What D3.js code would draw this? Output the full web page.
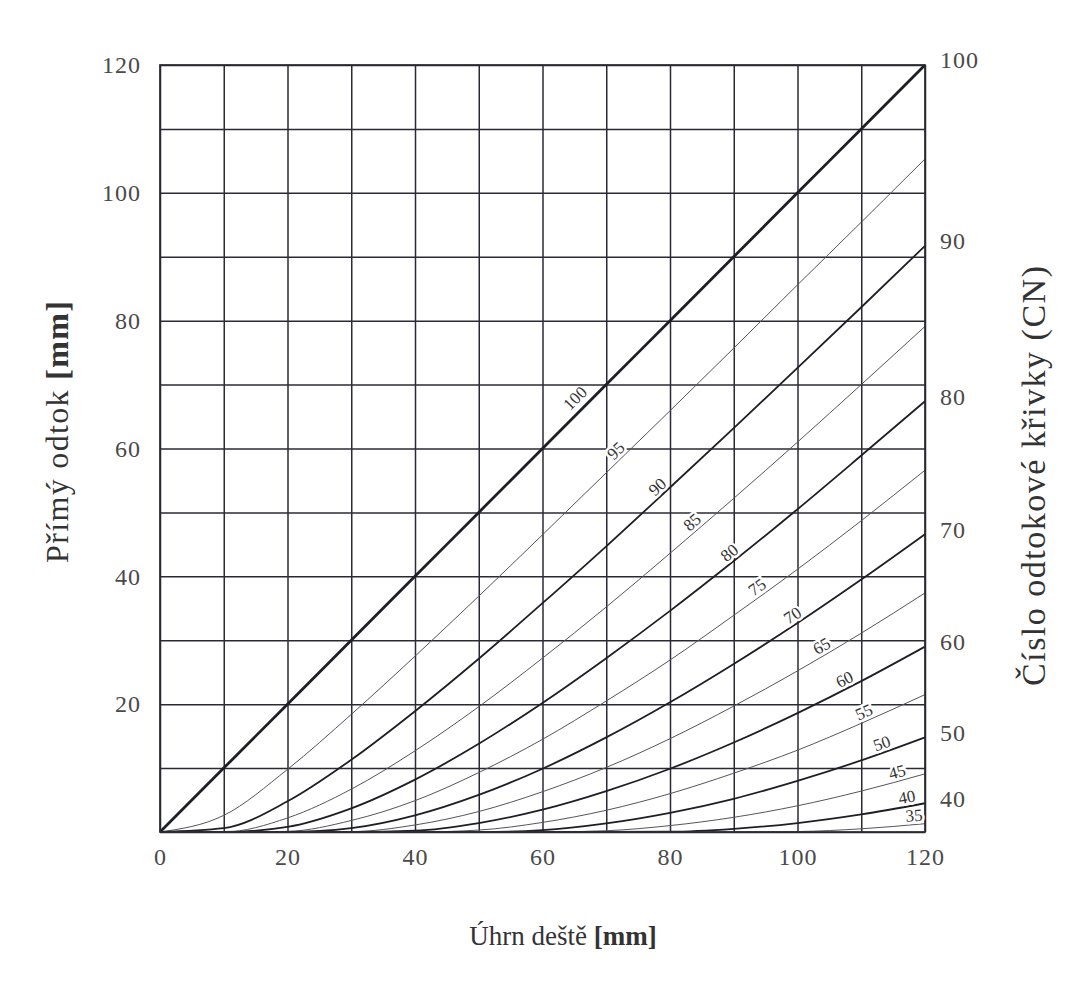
<!DOCTYPE html>
<html>
<head>
<meta charset="utf-8">
<script src="https://cdn.jsdelivr.net/npm/d3@7/dist/d3.min.js"></script>
<style>
    body { margin: 0; background: #fff; }
    text { font-family: "Liberation Serif", "DejaVu Serif", serif; }
</style>
</head>
<body>
<svg id="chart" width="1065" height="983"></svg>
<script>
// Rainfall (x) in mm, sampled every 10 mm
const rain = [0, 10, 20, 30, 40, 50, 60, 70, 80, 90, 100, 110, 120];

// Direct runoff (y) in mm
const runoff100 = [0, 10, 20, 30, 40, 50, 60, 70, 80, 90, 100, 110, 120];
const runoff95 = [0, 2.6, 9.8, 18.4, 27.5, 36.9, 46.5, 56.2, 65.9, 75.7, 85.6, 95.4, 105.3];
const runoff90 = [0, 0.6, 4.8, 11.3, 18.9, 27.1, 35.8, 44.7, 53.9, 63.2, 72.6, 82.1, 91.7];
const runoff85 = [0, 0, 2.2, 6.7, 12.7, 19.6, 27.2, 35.2, 43.6, 52.2, 61.0, 70.0, 79.1];
const runoff80 = [0, 0, 0.8, 3.7, 8.2, 13.8, 20.2, 27.2, 34.6, 42.4, 50.5, 58.9, 67.4];
const runoff75 = [0, 0, 0.1, 1.8, 4.9, 9.3, 14.5, 20.5, 26.9, 33.9, 41.1, 48.7, 56.6];
const runoff70 = [0, 0, 0, 0.6, 2.6, 5.8, 9.9, 14.8, 20.3, 26.3, 32.7, 39.5, 46.6];
const runoff65 = [0, 0, 0, 0.05, 1.1, 3.2, 6.3, 10.1, 14.6, 19.7, 25.2, 31.1, 37.4];
const runoff60 = [0, 0, 0, 0, 0.2, 1.4, 3.5, 6.4, 9.9, 14.0, 18.6, 23.6, 29.0];
const runoff55 = [0, 0, 0, 0, 0, 0.3, 1.5, 3.4, 6.0, 9.2, 12.8, 17.0, 21.5];
const runoff50 = [0, 0, 0, 0, 0, 0, 0.3, 1.35, 3.0, 5.2, 8.0, 11.2, 14.8];
const runoff45 = [0, 0, 0, 0, 0, 0, 0, 0.2, 1.0, 2.3, 4.1, 6.4, 9.1];
const runoff40 = [0, 0, 0, 0, 0, 0, 0, 0, 0.04, 0.5, 1.4, 2.75, 4.5];
const runoff35 = [0, 0, 0, 0, 0, 0, 0, 0, 0, 0, 0.07, 0.5, 1.3];

// Curve numbers and the rainfall where each curve's label sits
const cnValues = [100, 95, 90, 85, 80, 75, 70, 65, 60, 55, 50, 45, 40, 35];
const labelRain = [66.5, 72.5, 79, 84.4, 90.2, 94.5, 100, 104.5, 108, 111, 113.7, 116, 117.4, 118.4];

// Axis tick labels
const xTicks = [0, 20, 40, 60, 80, 100, 120];
const yTicks = [20, 40, 60, 80, 100, 120];
const gridTicks = [0, 10, 20, 30, 40, 50, 60, 70, 80, 90, 100, 110, 120];

const runoffByCn = {
    100: runoff100, 95: runoff95, 90: runoff90, 85: runoff85, 80: runoff80,
    75: runoff75, 70: runoff70, 65: runoff65, 60: runoff60, 55: runoff55,
    50: runoff50, 45: runoff45, 40: runoff40, 35: runoff35
};

const svg = d3.select("#chart");
const plot = { left: 160, right: 925, top: 65, bottom: 832 };

const x = d3.scaleLinear().domain([0, 120]).range([plot.left, plot.right]);
const y = d3.scaleLinear().domain([0, 120]).range([plot.bottom, plot.top]);

svg.append("rect").attr("width", 1065).attr("height", 983).attr("fill", "#fff");

// Grid
svg.append("g")
    .attr("transform", `translate(0, ${plot.bottom})`)
    .call(d3.axisBottom(x).tickValues(gridTicks).tickSize(-(plot.bottom - plot.top)).tickFormat(""))
    .call(g => g.select(".domain").remove())
    .call(g => g.selectAll("line").attr("stroke", "#2a2a32").attr("stroke-width", 1.5));

svg.append("g")
    .attr("transform", `translate(${plot.left}, 0)`)
    .call(d3.axisLeft(y).tickValues(gridTicks).tickSize(-(plot.right - plot.left)).tickFormat(""))
    .call(g => g.select(".domain").remove())
    .call(g => g.selectAll("line").attr("stroke", "#2a2a32").attr("stroke-width", 1.5));

// Curves
const line = d3.line()
    .x((d, i) => x(rain[i]))
    .y(d => y(d))
    .curve(d3.curveMonotoneX);

function strokeWidth(cn) {
    if (cn === 100) return 2.8;
    return cn % 10 === 0 ? 1.8 : 1.0;
}

svg.append("g")
    .selectAll("path")
    .data(cnValues)
    .enter()
    .append("path")
    .attr("d", cn => line(runoffByCn[cn]))
    .attr("fill", "none")
    .attr("stroke", cn => cn % 10 === 0 ? "#1e1e26" : "#55555c")
    .attr("stroke-width", strokeWidth);

// Frame
svg.append("rect")
    .attr("x", plot.left).attr("y", plot.top)
    .attr("width", plot.right - plot.left).attr("height", plot.bottom - plot.top)
    .attr("fill", "none").attr("stroke", "#2a2a32").attr("stroke-width", 1.7);

// Curve labels, rotated along the curve and sitting just above it
const labels = svg.append("g");
cnValues.forEach((cn, i) => {
    const q = d3.scaleLinear().domain(rain).range(runoffByCn[cn]);
    const p = labelRain[i];
    const px = x(p), py = y(q(p));
    const dx = x(p + 2) - x(p - 2);
    const dy = y(q(p + 2)) - y(q(p - 2));
    const angle = Math.atan2(dy, dx) * 180 / Math.PI;
    labels.append("text")
        .attr("transform", `translate(${px}, ${py}) rotate(${angle})`)
        .attr("text-anchor", "middle")
        .attr("dy", cn === 100 ? "-0.4em" : "-0.2em")
        .attr("font-size", 17)
        .attr("fill", "#333")
        .attr("stroke", cn === 100 ? "none" : "#fff")
        .attr("stroke-width", 5)
        .attr("paint-order", "stroke")
        .text(cn);
});

function styleTicks(g) {
    g.select(".domain").remove();
    g.selectAll("text")
        .attr("font-size", 24)
        .attr("fill", "#4a4a4a")
        .attr("letter-spacing", 1)
        .style("font-family", "'Liberation Serif', serif");
}

// Left axis
svg.append("g")
    .attr("transform", `translate(${plot.left}, 0)`)
    .call(d3.axisLeft(y).tickValues(yTicks).tickSize(0).tickPadding(19))
    .call(styleTicks);

// Bottom axis
svg.append("g")
    .attr("transform", `translate(0, ${plot.bottom})`)
    .call(d3.axisBottom(x).tickValues(xTicks).tickSize(0).tickPadding(16))
    .call(styleTicks);

// Right axis: CN value at the end of each major curve
const majorCn = cnValues.filter(cn => cn % 10 === 0);
const endRunoff = majorCn.map(cn => runoffByCn[cn][rain.length - 1]);
svg.append("g")
    .attr("transform", `translate(${plot.right}, 0)`)
    .call(d3.axisRight(y).tickValues(endRunoff).tickSize(0).tickPadding(15)
        .tickFormat((d, i) => majorCn[i]))
    .call(styleTicks)
    .call(g => g.selectAll("text").attr("dy", "0.12em"));

// Axis titles
const leftTitle = svg.append("text")
    .attr("transform", "translate(68, 432) rotate(-90)")
    .attr("text-anchor", "middle")
    .attr("font-size", 32)
    .attr("fill", "#333")
    .attr("textLength", 262)
    .attr("lengthAdjust", "spacing");
leftTitle.append("tspan").text("Přímý odtok  ");
leftTitle.append("tspan").attr("font-weight", "bold").text("[mm]");

const bottomTitle = svg.append("text")
    .attr("x", 563).attr("y", 945)
    .attr("text-anchor", "middle")
    .attr("font-size", 27)
    .attr("fill", "#333");
bottomTitle.append("tspan").text("Úhrn deště  ");
bottomTitle.append("tspan").attr("font-weight", "bold").text("[mm]");

svg.append("text")
    .attr("transform", "translate(1045, 476) rotate(-90)")
    .attr("text-anchor", "middle")
    .attr("font-size", 34)
    .attr("fill", "#333")
    .attr("textLength", 420)
    .attr("lengthAdjust", "spacing")
    .text("Číslo odtokové křivky (CN)");
</script>
</body>
</html>
